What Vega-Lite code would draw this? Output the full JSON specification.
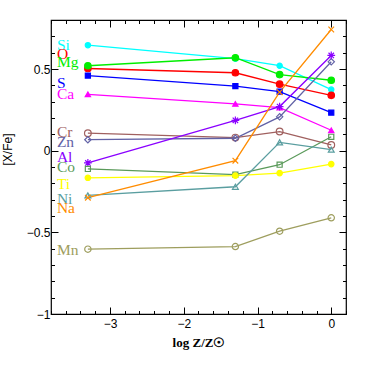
{
  "$schema": "https://vega.github.io/schema/vega-lite/v6.json",
  "width": 295,
  "height": 294,
  "autosize": "none",
  "padding": {"left": 51, "top": 20, "right": 19, "bottom": 51},
  "background": "white",
  "config": {
    "view": {"stroke": "black", "strokeWidth": 1.2},
    "axis": {"labelFont": "Liberation Sans", "labelFontSize": 12, "labelColor": "black", "titleColor": "black", "domainColor": "black", "tickColor": "black", "grid": false}
  },
  "datasets": {
    "pts": [
      {"el": "Si", "x": -3.3, "y": 0.646}, {"el": "Si", "x": -1.3, "y": 0.563}, {"el": "Si", "x": -0.7, "y": 0.52}, {"el": "Si", "x": 0, "y": 0.374},
      {"el": "O", "x": -3.3, "y": 0.503}, {"el": "O", "x": -1.3, "y": 0.477}, {"el": "O", "x": -0.7, "y": 0.407}, {"el": "O", "x": 0, "y": 0.339},
      {"el": "Mg", "x": -3.3, "y": 0.52}, {"el": "Mg", "x": -1.3, "y": 0.569}, {"el": "Mg", "x": -0.7, "y": 0.466}, {"el": "Mg", "x": 0, "y": 0.431},
      {"el": "S", "x": -3.3, "y": 0.46}, {"el": "S", "x": -1.3, "y": 0.395}, {"el": "S", "x": -0.7, "y": 0.362}, {"el": "S", "x": 0, "y": 0.233},
      {"el": "Ca", "x": -3.3, "y": 0.345}, {"el": "Ca", "x": -1.3, "y": 0.286}, {"el": "Ca", "x": -0.7, "y": 0.264}, {"el": "Ca", "x": 0, "y": 0.125},
      {"el": "Cr", "x": -3.3, "y": 0.107}, {"el": "Cr", "x": -1.3, "y": 0.08}, {"el": "Cr", "x": -0.7, "y": 0.117}, {"el": "Cr", "x": 0, "y": 0.035},
      {"el": "Zn", "x": -3.3, "y": 0.067}, {"el": "Zn", "x": -1.3, "y": 0.076}, {"el": "Zn", "x": -0.7, "y": 0.207}, {"el": "Zn", "x": 0, "y": 0.544},
      {"el": "Al", "x": -3.3, "y": -0.075}, {"el": "Al", "x": -1.3, "y": 0.186}, {"el": "Al", "x": -0.7, "y": 0.27}, {"el": "Al", "x": 0, "y": 0.583},
      {"el": "Co", "x": -3.3, "y": -0.112}, {"el": "Co", "x": -1.3, "y": -0.147}, {"el": "Co", "x": -0.7, "y": -0.086}, {"el": "Co", "x": 0, "y": 0.085},
      {"el": "Ti", "x": -3.3, "y": -0.166}, {"el": "Ti", "x": -1.3, "y": -0.153}, {"el": "Ti", "x": -0.7, "y": -0.137}, {"el": "Ti", "x": 0, "y": -0.082},
      {"el": "Ni", "x": -3.3, "y": -0.274}, {"el": "Ni", "x": -1.3, "y": -0.221}, {"el": "Ni", "x": -0.7, "y": 0.051}, {"el": "Ni", "x": 0, "y": 0.006},
      {"el": "Na", "x": -3.3, "y": -0.288}, {"el": "Na", "x": -1.3, "y": -0.061}, {"el": "Na", "x": -0.7, "y": 0.358}, {"el": "Na", "x": 0, "y": 0.742},
      {"el": "Mn", "x": -3.3, "y": -0.603}, {"el": "Mn", "x": -1.3, "y": -0.587}, {"el": "Mn", "x": -0.7, "y": -0.493}, {"el": "Mn", "x": 0, "y": -0.411}
    ],
    "labels": [
      {"el": "Si", "lx": -3.72, "ly": 0.645},
      {"el": "O", "lx": -3.72, "ly": 0.593},
      {"el": "Mg", "lx": -3.72, "ly": 0.54},
      {"el": "S", "lx": -3.72, "ly": 0.417},
      {"el": "Ca", "lx": -3.72, "ly": 0.345},
      {"el": "Cr", "lx": -3.72, "ly": 0.112},
      {"el": "Zn", "lx": -3.72, "ly": 0.051},
      {"el": "Al", "lx": -3.72, "ly": -0.041},
      {"el": "Co", "lx": -3.72, "ly": -0.102},
      {"el": "Ti", "lx": -3.72, "ly": -0.204},
      {"el": "Ni", "lx": -3.72, "ly": -0.297},
      {"el": "Na", "lx": -3.72, "ly": -0.35},
      {"el": "Mn", "lx": -3.72, "ly": -0.607}
    ]
  },
  "resolve": {"axis": {"x": "independent", "y": "independent"}},
  "layer": [
    {
      "data": {"name": "pts"},
      "mark": {"type": "line", "strokeWidth": 1.3},
      "encoding": {
        "x": {"field": "x", "type": "quantitative",
          "scale": {"domain": [-3.8, 0.2], "nice": false, "zero": false},
          "axis": {"orient": "bottom", "title": "log Z/Z☉", "titleFont": "Liberation Serif", "titleFontWeight": "bold", "titleFontSize": 13, "titlePadding": 7,
            "values": [-3.8, -3.6, -3.4, -3.2, -3, -2.8, -2.6, -2.4, -2.2, -2, -1.8, -1.6, -1.4, -1.2, -1, -0.8, -0.6, -0.4, -0.2, 0, 0.2],
            "format": ".1~f",
            "labelExpr": "abs(datum.value - round(datum.value)) < 1e-6 ? datum.label : ''",
            "tickSize": {"condition": {"test": "abs(datum.value - round(datum.value)) < 1e-6", "value": -7}, "value": -3.5},
            "labelPadding": 11, "domain": false}},
        "y": {"field": "y", "type": "quantitative",
          "scale": {"domain": [-1, 0.8], "nice": false, "zero": false},
          "axis": {"orient": "left", "title": "[X/Fe]", "titleFont": "Liberation Sans", "titleFontWeight": "normal", "titleFontSize": 12, "titleX": -37, "titleY": 129,
            "values": [-1, -0.9, -0.8, -0.7, -0.6, -0.5, -0.4, -0.3, -0.2, -0.1, 0, 0.1, 0.2, 0.3, 0.4, 0.5, 0.6, 0.7, 0.8],
            "format": ".1~f",
            "labelExpr": "abs(datum.value*2 - round(datum.value*2)) < 1e-6 ? datum.label : ''",
            "tickSize": {"condition": {"test": "abs(datum.value*2 - round(datum.value*2)) < 1e-6", "value": -7}, "value": -3.5},
            "labelPadding": 8, "domain": false}},
        "stroke": {"field": "el", "type": "nominal", "legend": null,
          "scale": {"domain": ["Si", "O", "Mg", "S", "Ca", "Cr", "Zn", "Al", "Co", "Ti", "Ni", "Na", "Mn"],
            "range": ["#00ffff", "#ff0000", "#00ee00", "#0000ff", "#ff00ff", "#a0605f", "#6262a6", "#8a00ff", "#5a9a5a", "#ffff00", "#5a9ea0", "#ff8c00", "#9e9e5e"]}},
        "detail": {"field": "el"}
      }
    },
    {
      "data": {"name": "pts"},
      "mark": {"type": "point", "strokeWidth": 1.2, "opacity": 1},
      "encoding": {
        "x": {"field": "x", "type": "quantitative", "scale": {"domain": [-3.8, 0.2], "nice": false, "zero": false}, "axis": null},
        "y": {"field": "y", "type": "quantitative", "scale": {"domain": [-1, 0.8], "nice": false, "zero": false}, "axis": null},
        "stroke": {"field": "el", "type": "nominal", "legend": null},
        "fill": {"field": "el", "type": "nominal", "legend": null,
          "scale": {"domain": ["Si", "O", "Mg", "S", "Ca", "Cr", "Zn", "Al", "Co", "Ti", "Ni", "Na", "Mn"],
            "range": ["#00ffff", "#ff0000", "#00ee00", "#0000ff", "#ff00ff", "transparent", "transparent", "transparent", "transparent", "#ffff00", "transparent", "transparent", "transparent"]}},
        "shape": {"field": "el", "type": "nominal", "legend": null,
          "scale": {"domain": ["Si", "O", "Mg", "S", "Ca", "Cr", "Zn", "Al", "Co", "Ti", "Ni", "Na", "Mn"],
            "range": ["circle", "circle", "circle", "square", "triangle-up", "circle", "diamond", "M-1,0L1,0M0,-1L0,1M-0.7,-0.7L0.7,0.7M-0.7,0.7L0.7,-0.7", "square", "circle", "triangle-up", "M-0.8,-0.8L0.8,0.8M-0.8,0.8L0.8,-0.8", "circle"]}},
        "size": {"field": "el", "type": "nominal", "legend": null,
          "scale": {"type": "ordinal", "domain": ["Si", "O", "Mg", "S", "Ca", "Cr", "Zn", "Al", "Co", "Ti", "Ni", "Na", "Mn"],
            "range": [28, 42, 42, 26, 28, 45, 40, 60, 26, 30, 34, 50, 40]}}
      }
    },
    {
      "data": {"name": "labels"},
      "mark": {"type": "text", "font": "Liberation Serif", "fontSize": 15.5, "align": "left", "baseline": "middle"},
      "encoding": {
        "x": {"field": "lx", "type": "quantitative",
          "scale": {"domain": [-3.8, 0.2], "nice": false, "zero": false},
          "axis": {"orient": "top", "title": null, "labels": false, "domain": false,
            "values": [-3.8, -3.6, -3.4, -3.2, -3, -2.8, -2.6, -2.4, -2.2, -2, -1.8, -1.6, -1.4, -1.2, -1, -0.8, -0.6, -0.4, -0.2, 0, 0.2],
            "tickSize": {"condition": {"test": "abs(datum.value - round(datum.value)) < 1e-6", "value": -7}, "value": -3.5}}},
        "y": {"field": "ly", "type": "quantitative",
          "scale": {"domain": [-1, 0.8], "nice": false, "zero": false},
          "axis": {"orient": "right", "title": null, "labels": false, "domain": false,
            "values": [-1, -0.9, -0.8, -0.7, -0.6, -0.5, -0.4, -0.3, -0.2, -0.1, 0, 0.1, 0.2, 0.3, 0.4, 0.5, 0.6, 0.7, 0.8],
            "tickSize": {"condition": {"test": "abs(datum.value*2 - round(datum.value*2)) < 1e-6", "value": -7}, "value": -3.5}}},
        "text": {"field": "el"},
        "color": {"field": "el", "type": "nominal", "legend": null,
          "scale": {"domain": ["Si", "O", "Mg", "S", "Ca", "Cr", "Zn", "Al", "Co", "Ti", "Ni", "Na", "Mn"],
            "range": ["#00ffff", "#ff0000", "#00ee00", "#0000ff", "#ff00ff", "#a0605f", "#6262a6", "#8a00ff", "#5a9a5a", "#ffff00", "#5a9ea0", "#ff8c00", "#9e9e5e"]}}
      }
    }
  ]
}
